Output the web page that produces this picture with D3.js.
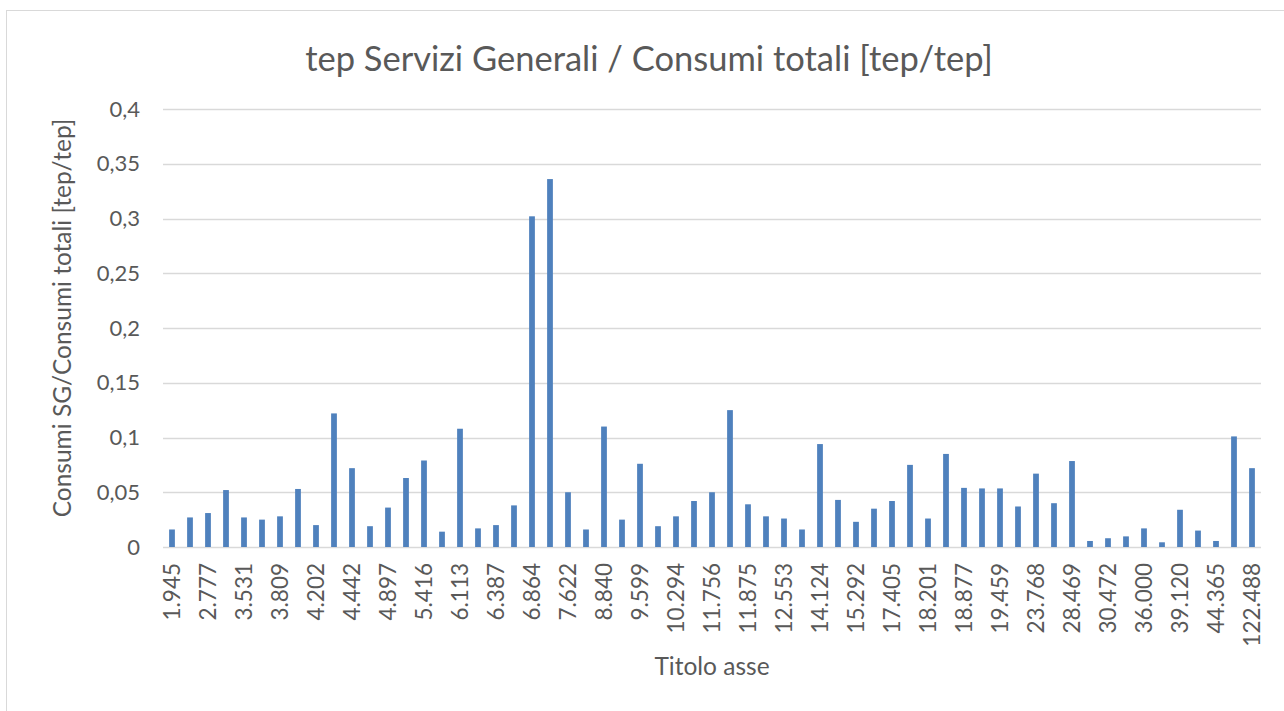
<!DOCTYPE html>
<html>
<head>
<meta charset="utf-8">
<script src="https://cdn.jsdelivr.net/npm/d3@7"></script>
<style>
  body { margin: 0; background: #fff; }
  text { font-family: Lato, "Open Sans", sans-serif; fill: #595959; }
</style>
</head>
<body>
<script>
// only every other category label is shown on the x axis
const tickLabels = ["1.945", "2.777", "3.531", "3.809", "4.202", "4.442", "4.897", "5.416",
    "6.113", "6.387", "6.864", "7.622", "8.840", "9.599", "10.294", "11.756", "11.875",
    "12.553", "14.124", "15.292", "17.405", "18.201", "18.877", "19.459", "23.768",
    "28.469", "30.472", "36.000", "39.120", "44.365", "122.488"];

const values = [0.016, 0.027, 0.031, 0.052, 0.027, 0.025, 0.028, 0.053, 0.020, 0.122,
    0.072, 0.019, 0.036, 0.063, 0.079, 0.014, 0.108, 0.017, 0.020, 0.038,
    0.302, 0.336, 0.050, 0.016, 0.110, 0.025, 0.076, 0.019, 0.028, 0.042,
    0.050, 0.125, 0.039, 0.028, 0.026, 0.016, 0.094, 0.043, 0.023, 0.035,
    0.042, 0.075, 0.026, 0.085, 0.054, 0.0535, 0.0535, 0.037, 0.067, 0.040,
    0.0785, 0.0055, 0.008, 0.0097, 0.017, 0.0043, 0.034, 0.015, 0.0055, 0.101,
    0.072];

const yTicks = [0, 0.05, 0.1, 0.15, 0.2, 0.25, 0.3, 0.35, 0.4];

const width = 1284, height = 711;
const margin = { left: 163, right: 23, top: 109, bottom: 164 };

const svg = d3.select("body").append("svg")
    .attr("width", width)
    .attr("height", height);

// chart frame
svg.append("rect")
    .attr("x", 6.5).attr("y", 10.5)
    .attr("width", 1300).attr("height", 720)
    .attr("fill", "none")
    .attr("stroke", "#d9d9d9")
    .attr("stroke-width", 1);

const x = d3.scaleBand()
    .domain(d3.range(values.length))
    .range([margin.left, width - margin.right])
    .paddingInner(0.68)
    .paddingOuter(0.34);

const y = d3.scaleLinear()
    .domain([0, 0.4])
    .range([height - margin.bottom, margin.top]);

// gridlines
svg.append("g")
    .selectAll("line")
    .data(yTicks)
    .enter().append("line")
    .attr("x1", margin.left)
    .attr("x2", width - margin.right)
    .attr("y1", d => Math.round(y(d)) + 0.5)
    .attr("y2", d => Math.round(y(d)) + 0.5)
    .attr("stroke", "#d9d9d9")
    .attr("stroke-width", 1.3);

// y axis labels
const fmt = d => d3.format("~g")(d).replace(".", ",");
svg.append("g")
    .attr("transform", "translate(" + (margin.left - 20) + ",0)")
    .call(d3.axisLeft(y).tickValues(yTicks).tickFormat(fmt).tickSize(0))
    .call(g => g.select(".domain").remove())
    .selectAll("text")
    .attr("font-size", 22)
    .attr("fill", "#595959")
    .attr("font-family", "Lato, 'Open Sans', sans-serif");

// bars
svg.append("g")
    .selectAll("rect")
    .data(values)
    .enter().append("rect")
    .attr("x", (d, i) => x(i))
    .attr("y", d => y(d))
    .attr("width", x.bandwidth())
    .attr("height", d => y(0) - y(d))
    .attr("fill", "#4f81bd");

// x axis labels
const xAxis = svg.append("g")
    .attr("transform", "translate(0," + (y(0) + 16) + ")")
    .call(d3.axisBottom(x)
        .tickValues(d3.range(0, values.length, 2))
        .tickFormat(i => tickLabels[i / 2])
        .tickSize(0));
xAxis.select(".domain").remove();
xAxis.selectAll("text")
    .attr("font-size", 22.5)
    .attr("fill", "#595959")
    .attr("font-family", "Lato, 'Open Sans', sans-serif")
    .attr("text-anchor", "end")
    .attr("dy", "0.35em")
    .attr("transform", "rotate(-90)")
    .attr("x", 0)
    .attr("y", 0);

// titles
svg.append("text")
    .attr("x", 649)
    .attr("y", 71)
    .attr("text-anchor", "middle")
    .attr("font-size", 34.5)
    .text("tep Servizi Generali / Consumi totali [tep/tep]");

svg.append("text")
    .attr("x", 712)
    .attr("y", 675)
    .attr("text-anchor", "middle")
    .attr("font-size", 24.5)
    .text("Titolo asse");

svg.append("text")
    .attr("transform", "translate(71," + 318 + ") rotate(-90)")
    .attr("text-anchor", "middle")
    .attr("font-size", 24.5)
    .text("Consumi SG/Consumi totali [tep/tep]");
</script>
</body>
</html>
